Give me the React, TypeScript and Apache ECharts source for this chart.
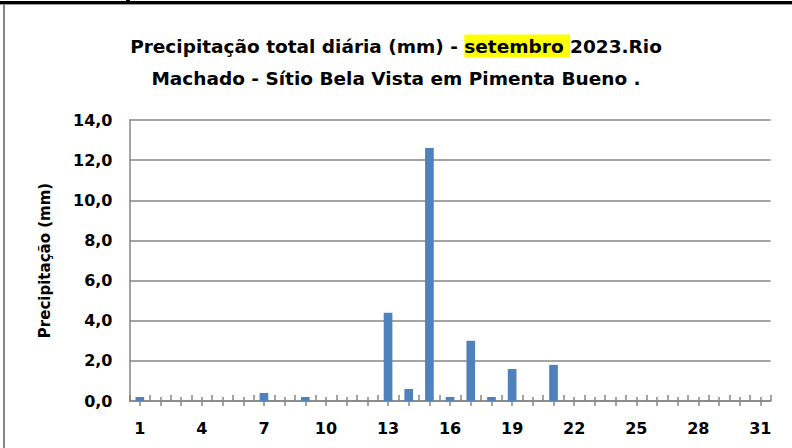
import React, { useEffect, useRef } from "react";
import * as echarts from "echarts";

const days = ["1","2","3","4","5","6","7","8","9","10","11","12","13","14","15","16","17","18","19","20","21","22","23","24","25","26","27","28","29","30","31"];
const precipitation = [0.2,0,0,0,0,0,0.4,0,0.2,0,0,0,4.4,0.6,12.6,0.2,3.0,0.2,1.6,0,1.8,0,0,0,0,0,0,0,0,0,0];
const yMin = 0;
const yMax = 14;
const yStep = 2;
const titleLine1a = "Precipitação total diária (mm) - ";
const titleHighlight = "setembro ";
const titleLine1b = "2023.Rio";
const titleLine2 = "Machado - Sítio Bela Vista em Pimenta Bueno .";
const yAxisName = "Precipitação (mm)";

const FONT = "DejaVu Sans";
const GRAY = "#868686";

export default function App() {
  const ref = useRef<HTMLDivElement>(null);
  useEffect(() => {
    if (!ref.current) return;
    const chart = echarts.init(ref.current, undefined, { renderer: "svg" });
    const tickCommon = { lineStyle: { color: GRAY, width: 1.5 } };
    chart.setOption({
      animation: false,
      backgroundColor: "#ffffff",
      title: {
        left: "center",
        top: 25,
        text: `{a|${titleLine1a}}{h|${titleHighlight}}{a|${titleLine1b}}\n{a|${titleLine2}}`,
        textStyle: {
          rich: {
            a: { fontFamily: FONT, fontWeight: "bold", fontSize: 18.5, color: "#000", lineHeight: 32 },
            h: { fontFamily: FONT, fontWeight: "bold", fontSize: 18.5, color: "#000", backgroundColor: "#FFFF00", height: 23 },
          },
        },
      },
      graphic: [
        { type: "rect", shape: { x: 0, y: 1, width: 792, height: 3 }, style: { fill: "#000" } },
        { type: "rect", shape: { x: 0, y: 4, width: 792, height: 1 }, style: { fill: "#9a9a9a" } },
        { type: "rect", shape: { x: 3, y: 4, width: 2, height: 444 }, style: { fill: GRAY } },
        { type: "rect", shape: { x: 126, y: 0, width: 4, height: 2 }, style: { fill: "#000" } },
      ],
      grid: { left: 129.5, right: 21.3, top: 120, bottom: 47, containLabel: false },
      xAxis: [
        {
          type: "category",
          data: days,
          position: "bottom",
          axisLine: { show: true, lineStyle: { color: GRAY, width: 1.5 } },
          axisTick: { show: true, interval: 0, inside: true, length: 6, ...tickCommon },
          axisLabel: { interval: 2, fontFamily: FONT, fontWeight: "bold", fontSize: 16, color: "#000", margin: 19 },
          splitLine: { show: false },
        },
        {
          type: "category",
          data: days,
          position: "bottom",
          axisLine: { show: false },
          axisTick: { show: true, interval: 0, alignWithLabel: true, inside: false, length: 5, ...tickCommon },
          axisLabel: { show: false },
          splitLine: { show: false },
        },
        {
          type: "category",
          data: days,
          position: "bottom",
          axisLine: { show: false },
          axisTick: { show: true, interval: 0, alignWithLabel: true, inside: true, length: 4, ...tickCommon },
          axisLabel: { show: false },
          splitLine: { show: false },
        },
      ],
      yAxis: {
        type: "value",
        min: yMin,
        max: yMax,
        interval: yStep,
        name: yAxisName,
        nameLocation: "middle",
        nameGap: 77,
        nameTextStyle: { fontFamily: FONT, fontWeight: "bold", fontSize: 15, color: "#000" },
        axisLine: { show: true, lineStyle: { color: GRAY, width: 1.5 } },
        axisTick: { show: false },
        axisLabel: {
          fontFamily: FONT,
          fontWeight: "bold",
          fontSize: 16,
          color: "#000",
          margin: 17,
          formatter: (v: number) => v.toFixed(1).replace(".", ","),
        },
        splitLine: { show: true, lineStyle: { color: GRAY, width: 1.5 } },
      },
      series: [
        {
          type: "bar",
          xAxisIndex: 0,
          data: precipitation,
          barWidth: "42%",
          itemStyle: { color: "#4F81BD" },
        },
      ],
    });
    return () => chart.dispose();
  }, []);
  return <div ref={ref} style={{ width: 792, height: 448, position: "absolute", left: 0, top: 0 }} />;
}
